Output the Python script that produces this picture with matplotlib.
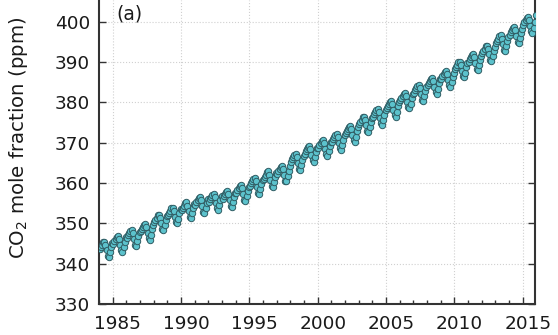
import matplotlib.pyplot as plt
import matplotlib.transforms as mtransforms
import numpy as np

# Globally averaged CO2 mole fraction, monthly means (ppm), Jan..Dec per year
years = list(range(1984, 2016))
co2_monthly = [
    [343.6, 344.2, 344.7, 345.3, 345.5, 344.7, 343.3, 341.9, 341.6, 342.8, 344.1, 345.1],  # 1984
    [345.0, 345.6, 346.1, 346.7, 346.9, 346.1, 344.7, 343.3, 343.0, 344.2, 345.5, 346.5],  # 1985
    [346.4, 347.0, 347.5, 348.1, 348.3, 347.5, 346.1, 344.7, 344.4, 345.6, 346.9, 347.9],  # 1986
    [348.0, 348.6, 349.1, 349.7, 349.9, 349.1, 347.7, 346.3, 346.0, 347.2, 348.5, 349.5],  # 1987
    [350.3, 350.9, 351.4, 352.0, 352.2, 351.4, 350.0, 348.6, 348.3, 349.5, 350.8, 351.8],  # 1988
    [352.0, 352.6, 353.1, 353.7, 353.9, 353.1, 351.7, 350.3, 350.0, 351.2, 352.5, 353.5],  # 1989
    [353.3, 353.9, 354.4, 355.0, 355.2, 354.4, 353.0, 351.6, 351.3, 352.5, 353.8, 354.8],  # 1990
    [354.6, 355.2, 355.7, 356.3, 356.5, 355.7, 354.3, 352.9, 352.6, 353.8, 355.1, 356.1],  # 1991
    [355.4, 356.0, 356.5, 357.1, 357.3, 356.5, 355.1, 353.7, 353.4, 354.6, 355.9, 356.9],  # 1992
    [356.1, 356.7, 357.2, 357.8, 358.0, 357.2, 355.8, 354.4, 354.1, 355.3, 356.6, 357.6],  # 1993
    [357.6, 358.2, 358.7, 359.3, 359.5, 358.7, 357.3, 355.9, 355.6, 356.8, 358.1, 359.1],  # 1994
    [359.3, 359.9, 360.4, 361.0, 361.2, 360.4, 359.0, 357.6, 357.3, 358.5, 359.8, 360.8],  # 1995
    [361.0, 361.6, 362.1, 362.7, 362.9, 362.1, 360.7, 359.3, 359.0, 360.2, 361.5, 362.5],  # 1996
    [362.3, 362.9, 363.4, 364.0, 364.2, 363.4, 362.0, 360.6, 360.5, 361.7, 363.1, 364.3],  # 1997
    [365.3, 365.9, 366.4, 367.0, 367.2, 366.4, 365.0, 363.6, 363.3, 364.5, 365.8, 366.8],  # 1998
    [367.3, 367.9, 368.4, 369.0, 369.2, 368.4, 367.0, 365.6, 365.3, 366.5, 367.8, 368.8],  # 1999
    [368.8, 369.4, 369.9, 370.5, 370.7, 369.9, 368.5, 367.1, 366.8, 368.0, 369.3, 370.3],  # 2000
    [370.3, 370.9, 371.4, 372.0, 372.2, 371.4, 370.0, 368.6, 368.3, 369.5, 370.8, 371.8],  # 2001
    [372.3, 372.9, 373.4, 374.0, 374.2, 373.4, 372.0, 370.6, 370.3, 371.5, 372.8, 373.8],  # 2002
    [374.6, 375.2, 375.7, 376.3, 376.5, 375.7, 374.3, 372.9, 372.6, 373.8, 375.1, 376.1],  # 2003
    [376.5, 377.1, 377.6, 378.2, 378.4, 377.6, 376.2, 374.8, 374.5, 375.7, 377.0, 378.0],  # 2004
    [378.5, 379.1, 379.6, 380.2, 380.4, 379.6, 378.2, 376.8, 376.5, 377.7, 379.0, 380.0],  # 2005
    [380.5, 381.1, 381.6, 382.2, 382.4, 381.6, 380.2, 378.8, 378.5, 379.7, 381.0, 382.0],  # 2006
    [382.4, 383.0, 383.5, 384.1, 384.3, 383.5, 382.1, 380.7, 380.4, 381.6, 382.9, 383.9],  # 2007
    [384.2, 384.8, 385.3, 385.9, 386.1, 385.3, 383.9, 382.5, 382.2, 383.4, 384.7, 385.7],  # 2008
    [385.9, 386.5, 387.0, 387.6, 387.8, 387.0, 385.6, 384.2, 383.9, 385.1, 386.4, 387.4],  # 2009
    [388.2, 388.8, 389.3, 389.9, 390.1, 389.3, 387.9, 386.5, 386.2, 387.4, 388.7, 389.7],  # 2010
    [390.1, 390.7, 391.2, 391.8, 392.0, 391.2, 389.8, 388.4, 388.1, 389.3, 390.6, 391.6],  # 2011
    [392.2, 392.8, 393.3, 393.9, 394.1, 393.3, 391.9, 390.5, 390.2, 391.4, 392.7, 393.7],  # 2012
    [394.7, 395.3, 395.8, 396.4, 396.6, 395.8, 394.4, 393.0, 392.7, 393.9, 395.2, 396.2],  # 2013
    [396.8, 397.4, 397.9, 398.5, 398.7, 397.9, 396.5, 395.1, 394.8, 396.0, 397.3, 398.3],  # 2014
    [399.3, 399.9, 400.4, 401.0, 401.2, 400.4, 399.0, 397.6, 397.3, 398.5, 400.0, 401.6],  # 2015
]
xticks = [1985, 1990, 1995, 2000, 2005, 2010, 2015]
yticks = [330, 340, 350, 360, 370, 380, 390, 400]

# decimal dates at mid-month
t = np.array([y + (m + 0.5) / 12 for y in years for m in range(12)])
co2 = np.array(co2_monthly).ravel()

plt.rcParams['font.family'] = ['DejaVu Sans']
fig = plt.figure(figsize=(5.58, 3.35), dpi=100)
ax = fig.add_axes([0.1774, 0.0925, 0.7814, 0.9075])

ax.plot(t, co2, "-", color="#2e4f55", lw=0.8, zorder=2)
ax.plot(t, co2, "o", ms=4.6, mfc="#5cc2cc", mec="#2f5c63", mew=0.7, zorder=3)

ax.set_xlim(1983.99, 2015.9)
ax.set_ylim(330, 405.4)
ax.set_xticks(xticks)
ax.set_xticks(range(1984, 2016), minor=True)
ax.set_yticks(yticks)
ax.grid(True, which="major", color="#d0d0d0", ls=":", lw=0.8)

ax.tick_params(which="both", direction="in", right=True, top=False,
               colors="#333333", labelcolor="#1a1a1a", labelsize=13.3, width=1.0)
ax.tick_params(which="major", length=5)
ax.tick_params(which="minor", length=3)
ax.tick_params(axis="x", pad=8)
ax.tick_params(axis="y", pad=6.5)
for side in ["left", "bottom", "right"]:
    ax.spines[side].set_color("#333333")
    ax.spines[side].set_linewidth(1.5)
ax.spines["top"].set_visible(False)

# year labels sit slightly right of their ticks
shift = mtransforms.ScaledTranslation(5 / 100, 0, fig.dpi_scale_trans)
for lab in ax.get_xticklabels():
    lab.set_transform(lab.get_transform() + shift)

ax.set_ylabel("CO$_2$ mole fraction (ppm)", fontsize=14.2, color="#1a1a1a")
ax.yaxis.set_label_coords(-0.158, 0.548)
ax.text(0.041, 0.984, "(a)", transform=ax.transAxes, fontsize=13.5, va="top", ha="left",
        color="#1a1a1a")

fig.savefig("out.png", dpi=100)
